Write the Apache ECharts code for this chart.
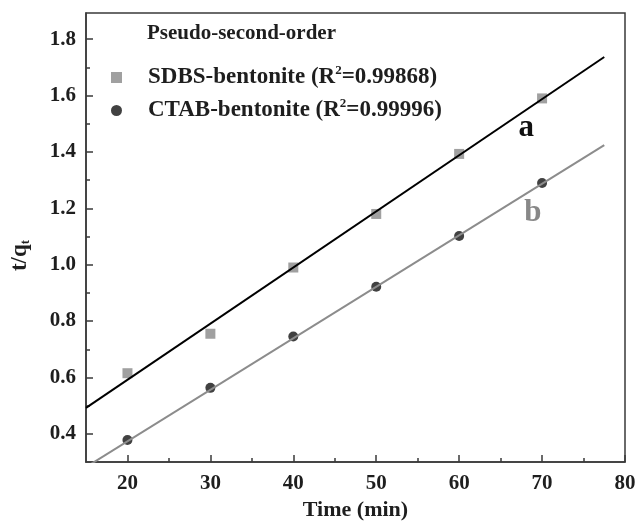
<!DOCTYPE html>
<html>
<head>
<meta charset="utf-8">
<script src="https://cdn.jsdelivr.net/npm/echarts@6/dist/echarts.min.js"></script>
<style>html,body{margin:0;padding:0;background:#fff}#c{width:636px;height:523px}</style>
</head>
<body>
<div id="c"></div>
<script>
var timeMin = [20, 30, 40, 50, 60, 70];
var sdbs = [0.615, 0.755, 0.99, 1.18, 1.393, 1.59];
var ctab = [0.378, 0.563, 0.745, 0.922, 1.102, 1.29];
var fitA = [[15, 0.492], [77.5, 1.737]];
var fitB = [[15, 0.282], [77.5, 1.424]];
var xMajor = [20, 30, 40, 50, 60, 70, 80];
var xMinor = [25, 35, 45, 55, 65, 75];
var yMajor = [0.4, 0.6, 0.8, 1.0, 1.2, 1.4, 1.6, 1.8];
var yMinor = [0.5, 0.7, 0.9, 1.1, 1.3, 1.5, 1.7];
var legendTitle = 'Pseudo-second-order';
var nameSDBS = 'SDBS-bentonite';
var nameCTAB = 'CTAB-bentonite';
var r2 = { 'SDBS-bentonite': '0.99868', 'CTAB-bentonite': '0.99996' };

var font = '"Liberation Serif", "Times New Roman", serif';
var chart = echarts.init(document.getElementById('c'));
var axisColor = '#3a3a3a';
var txt = '#1e1e1e';
function zip(xs, ys) { return xs.map(function (x, i) { return [x, ys[i]]; }); }

var option = {
  animation: false,
  backgroundColor: '#fff',
  textStyle: { fontFamily: font },
  grid: { left: 86, right: 11, top: 13, bottom: 61, outerBoundsMode: 'none', containLabel: false,
    show: true, borderColor: axisColor, borderWidth: 1.5, backgroundColor: 'transparent' },
  title: {
    text: legendTitle, left: 147, top: 23, padding: 0,
    textStyle: { fontFamily: font, fontWeight: 'bold', fontSize: 21, color: txt }
  },
  legend: {
    data: [nameSDBS, nameCTAB],
    orient: 'vertical', left: 111, top: 64, padding: 0,
    itemWidth: 11, itemHeight: 11, itemGap: 8,
    formatter: function (n) { return '{g|}{n|' + n + ' (R}{s|2}{n|=' + r2[n] + ')}'; },
    textStyle: {
      fontFamily: font, fontWeight: 'bold', fontSize: 23, color: txt,
      rich: {
        g: { width: 21 },
        n: { fontFamily: font, fontWeight: 'bold', fontSize: 23, color: txt },
        s: { fontFamily: font, fontWeight: 'bold', fontSize: 13, color: txt, verticalAlign: 'top', padding: [0, 0, 14, 0] }
      }
    }
  },
  xAxis: [{
    type: 'value', min: 15, max: 80, position: 'bottom',
    name: 'Time (min)', nameLocation: 'middle', nameGap: 30,
    nameTextStyle: { fontFamily: font, fontWeight: 'bold', fontSize: 22, color: txt },
    axisLine: { show: true, onZero: false, lineStyle: { color: axisColor, width: 1.5 } },
    axisTick: { show: true, inside: true, length: 7, customValues: xMajor, lineStyle: { color: axisColor, width: 1.5 } },
    axisLabel: { customValues: xMajor, margin: 11, fontFamily: font, fontWeight: 'bold', fontSize: 21, color: txt },
    splitLine: { show: false }
  }, {
    type: 'value', min: 15, max: 80, position: 'bottom', gridIndex: 0,
    axisLine: { show: false },
    axisTick: { show: true, inside: true, length: 4, customValues: xMinor, lineStyle: { color: axisColor, width: 1.5 } },
    axisLabel: { show: false }, splitLine: { show: false }
  }],
  yAxis: [{
    type: 'value', min: 0.3, max: 1.893, position: 'left',
    name: 't/q{sub|t}', nameLocation: 'middle', nameGap: 54,
    nameTextStyle: {
      fontFamily: font, fontWeight: 'bold', fontSize: 23, color: txt, padding: [0, 36, 0, 0],
      rich: { sub: { fontFamily: font, fontWeight: 'bold', fontSize: 13, color: txt, verticalAlign: 'bottom', padding: [9, 0, 0, 0] } }
    },
    axisLine: { show: true, onZero: false, lineStyle: { color: axisColor, width: 1.5 } },
    axisTick: { show: true, inside: true, length: 7, customValues: yMajor, lineStyle: { color: axisColor, width: 1.5 } },
    axisLabel: { customValues: yMajor, margin: 10, fontFamily: font, fontWeight: 'bold', fontSize: 21, color: txt,
      formatter: function (v) { return v.toFixed(1); } },
    splitLine: { show: false }
  }, {
    type: 'value', min: 0.3, max: 1.893, position: 'left', gridIndex: 0,
    axisLine: { show: false },
    axisTick: { show: true, inside: true, length: 4, customValues: yMinor, lineStyle: { color: axisColor, width: 1.5 } },
    axisLabel: { show: false }, splitLine: { show: false }
  }],
  series: [
    {
      name: nameSDBS, type: 'scatter', symbol: 'rect', symbolSize: 10,
      itemStyle: { color: '#888' }, data: zip(timeMin, sdbs), z: 2
    },
    {
      name: nameCTAB, type: 'scatter', symbol: 'circle', symbolSize: 10,
      itemStyle: { color: '#111' }, data: zip(timeMin, ctab), z: 2
    },
    {
      name: 'fitA', type: 'line', data: fitA, symbol: 'none', z: 3,
      lineStyle: { color: '#000', width: 2 },
      markPoint: { symbol: 'circle', symbolSize: 0, data: [{ coord: [68.1, 1.484], label: { show: true, formatter: 'a', fontFamily: font, fontWeight: 'bold', fontSize: 31, color: '#111' } }] }
    },
    {
      name: 'fitB', type: 'line', data: fitB, symbol: 'none', z: 3,
      lineStyle: { color: '#8c8c8c', width: 2 },
      markPoint: { symbol: 'circle', symbolSize: 0, data: [{ coord: [68.9, 1.185], label: { show: true, formatter: 'b', fontFamily: font, fontWeight: 'bold', fontSize: 31, color: '#888' } }] }
    }
  ]
};
chart.setOption(option);
</script>
</body>
</html>
